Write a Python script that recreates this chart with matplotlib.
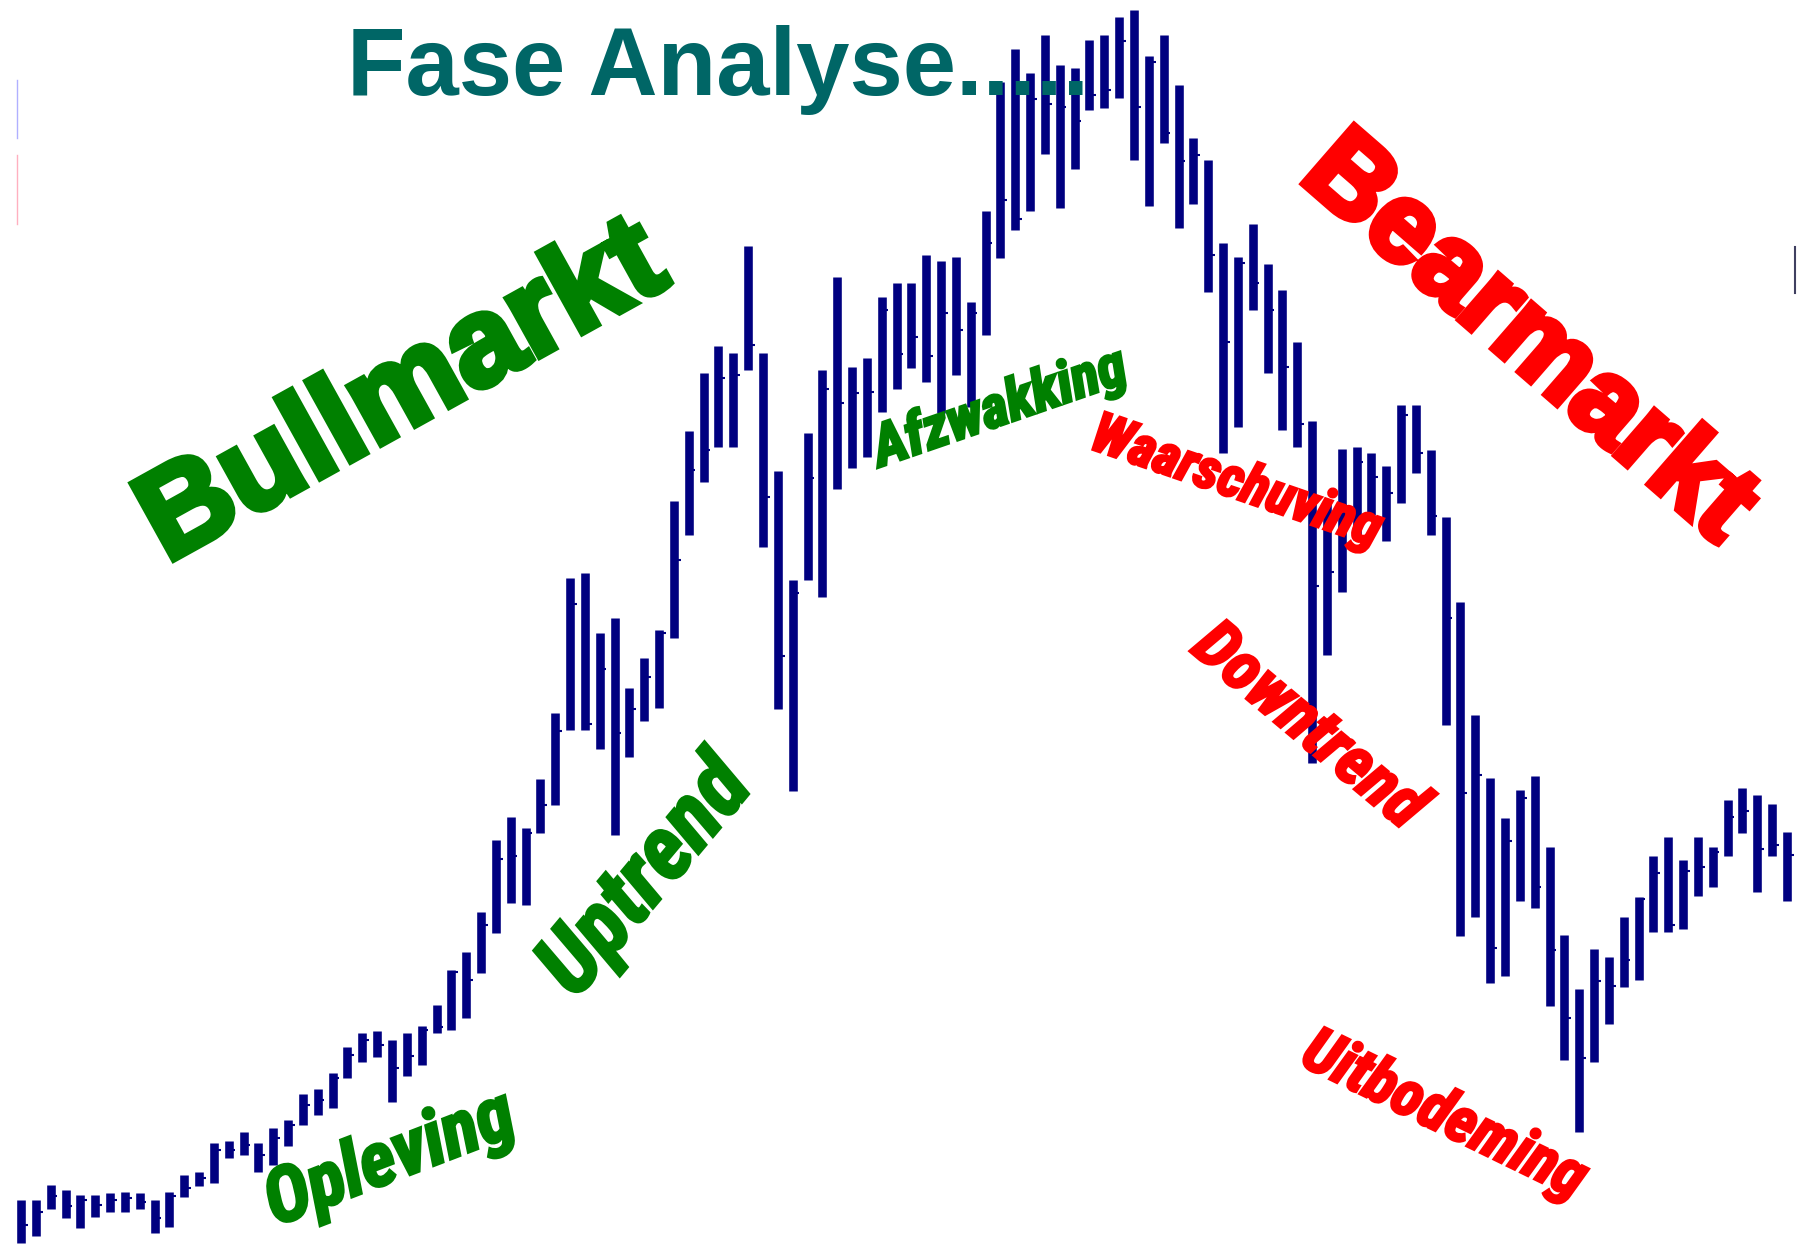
import matplotlib
matplotlib.use("Agg")
import matplotlib.pyplot as plt
import matplotlib.patheffects as pe
from matplotlib import font_manager
import numpy as np

# bar chart values
# (height above the bottom edge, in pixels of the 1246 px tall picture)
high = [46, 46, 61, 56, 51, 51, 53, 54, 53, 46,
        54, 71, 74, 103, 105, 114, 103, 118, 126, 152,
        157, 173, 199, 213, 215, 206, 213, 220, 241, 276,
        294, 334, 406, 429, 418, 467, 533, 668, 673, 613,
        628, 558, 588, 616, 745, 815, 873, 900, 893, 1000,
        893, 775, 666, 813, 876, 969, 879, 888, 949, 963,
        963, 991, 985, 989, 944, 1035, 1164, 1197, 1173, 1211,
        1181, 1178, 1206, 1211, 1229, 1236, 1190, 1211, 1161, 1108,
        1086, 1003, 989, 1022, 982, 956, 904, 825, 746, 797,
        799, 793, 780, 841, 841, 796, 729, 644, 531, 468,
        428, 456, 470, 399, 311, 257, 297, 289, 329, 349,
        390, 409, 386, 409, 399, 446, 458, 451, 442, 414]
low = [3, 10, 37, 28, 18, 29, 34, 34, 37, 13,
       19, 49, 60, 63, 88, 91, 74, 81, 100, 121,
       131, 138, 168, 184, 189, 144, 170, 181, 213, 216,
       228, 273, 313, 343, 341, 413, 441, 516, 516, 497,
       411, 489, 525, 538, 608, 711, 764, 799, 799, 876,
       699, 537, 455, 666, 649, 757, 778, 789, 834, 857,
       878, 864, 833, 871, 839, 911, 988, 1016, 1035, 1092,
       1038, 1077, 1136, 1138, 1148, 1086, 1040, 1103, 1018, 1042,
       954, 793, 819, 936, 873, 816, 799, 483, 591, 654,
       706, 731, 705, 743, 773, 711, 521, 310, 329, 263,
       270, 345, 338, 240, 186, 114, 184, 222, 259, 266,
       314, 314, 317, 350, 359, 390, 413, 354, 390, 345]
close = [21, 34, 50, 40, 46, 41, 46, 48, 44, 28,
         50, 58, 68, 96, 96, 101, 91, 108, 121, 141,
         146, 168, 191, 206, 201, 178, 190, 216, 219, 274,
         266, 321, 387, 390, 413, 441, 515, 642, 522, 577,
         513, 537, 569, 613, 686, 776, 796, 868, 871, 901,
         749, 590, 653, 768, 857, 843, 853, 854, 936, 892,
         909, 890, 933, 916, 933, 1003, 1046, 1027, 1147, 1142,
         1139, 1125, 1151, 1156, 1205, 1139, 1184, 1113, 1085, 1091,
         991, 904, 983, 963, 936, 879, 822, 660, 674, 726,
         784, 769, 753, 831, 793, 730, 628, 453, 471, 298,
         405, 448, 359, 296, 228, 188, 265, 260, 286, 347,
         373, 321, 375, 379, 394, 429, 435, 397, 401, 391]

phases_green = ["Opleving", "Uptrend", "Afzwakking"]
phases_red = ["Waarschuving", "Downtrend", "Uitbodeming"]

W, H = 1798, 1246
fig = plt.figure(figsize=(W / 100, H / 100), dpi=100)
ax = fig.add_axes([0, 0, 1, 1])

x = np.arange(len(high))
navy = '#000080'
ax.vlines(x, low, high, color=navy, linewidth=6.2)
ax.hlines(close, x, x + 0.45, color=navy, linewidth=1.5)

ax.set_xlim(-21 / 14.84, (W - 21) / 14.84)
ax.set_ylim(0, H)
ax.axis('off')

# leftover legend slivers at the picture edges
ax.axvline(-0.3, ymin=1 - 138 / H, ymax=1 - 80 / H, color='#b0b0ff', lw=1)
ax.axvline(-0.3, ymin=1 - 224 / H, ymax=1 - 155 / H, color='#ffb0c0', lw=1)
ax.axvline(119.55, ymin=1 - 293 / H, ymax=1 - 247 / H, color='#404060', lw=1.5)

# pick a condensed face if one is installed
names = {f.name for f in font_manager.fontManager.ttflist}
narrow_fam = [n for n in ['Liberation Sans Narrow', 'Roboto Condensed', 'Open Sans Condensed']
              if n in names] + ['Liberation Sans']

renderer = fig.canvas.get_renderer()


def label(px, py, txt, length, rot, color, narrow=True, stroke=2.0):
    # size the text so its length matches the reference, then rotate it
    fam = narrow_fam if narrow else ['Liberation Sans']
    t = fig.text(px / W, 1 - py / H, txt, fontsize=50, color=color,
                 fontweight='bold', style='italic' if narrow else 'normal',
                 family=fam, ha='center', va='center', rotation_mode='anchor', zorder=5)
    w = t.get_window_extent(renderer).width
    t.set_fontsize(50 * length / w)
    t.set_rotation(rot)
    t.set_path_effects([pe.withStroke(linewidth=stroke, foreground=color,
                                      joinstyle='miter')])
    return t


green = '#008000'
red = '#ff0000'

fig.text(347 / W, 1 - 95 / H, 'Fase Analyse.....', fontsize=69, fontweight='bold',
         color='#006666', family=['Liberation Sans'], ha='left', va='baseline', zorder=6)

label(404, 395, 'Bullmarkt', 578, 29, green, narrow=False, stroke=5)
label(1527, 340, 'Bearmarkt', 558, -41, red, narrow=False, stroke=5)

label(390, 1160, phases_green[0], 262, 21, green)
label(646, 878, phases_green[1], 278, 50, green)
label(1000, 409, phases_green[2], 265, 19, green)

label(1236, 483, phases_red[0], 304, -19, red)
label(1308, 727, phases_red[1], 280, -40, red)
label(1444, 1116, phases_red[2], 308, -26, red)

fig.savefig('out.png', dpi=100)
